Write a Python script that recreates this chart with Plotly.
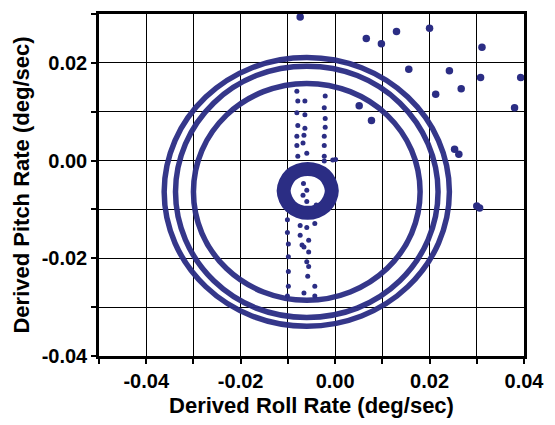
import plotly.graph_objects as go

# ---------------- data ----------------
ring1_x = [0.0242, 0.0219, 0.0154, 0.0056, -0.0060, -0.0176, -0.0274, -0.0339,
           -0.0362, -0.0339, -0.0274, -0.0176, -0.0060, 0.0056, 0.0154, 0.0219, 0.0242]
ring1_y = [-0.0064, 0.0041, 0.0130, 0.0190, 0.0211, 0.0190, 0.0130, 0.0041,
           -0.0064, -0.0169, -0.0258, -0.0318, -0.0339, -0.0318, -0.0258, -0.0169, -0.0064]

ring2_x = [0.0218, 0.0197, 0.0137, 0.0047, -0.0060, -0.0167, -0.0257, -0.0317,
           -0.0338, -0.0317, -0.0257, -0.0167, -0.0060, 0.0047, 0.0137, 0.0197, 0.0218]
ring2_y = [-0.0064, 0.0034, 0.0118, 0.0174, 0.0193, 0.0174, 0.0118, 0.0034,
           -0.0064, -0.0162, -0.0246, -0.0302, -0.0321, -0.0302, -0.0246, -0.0162, -0.0064]

ring3_x = [0.0180, 0.0162, 0.0110, 0.0032, -0.0060, -0.0152, -0.0230, -0.0282,
           -0.0300, -0.0282, -0.0230, -0.0152, -0.0060, 0.0032, 0.0110, 0.0162, 0.0180]
ring3_y = [-0.0064, 0.0021, 0.0093, 0.0141, 0.0158, 0.0141, 0.0093, 0.0021,
           -0.0064, -0.0149, -0.0221, -0.0269, -0.0286, -0.0269, -0.0221, -0.0149, -0.0064]

core_x = [-0.0007, -0.0022, -0.0058, -0.0094, -0.0109, -0.0094, -0.0058, -0.0022, -0.0007]
core_y = [-0.0062, -0.0030, -0.0017, -0.0030, -0.0062, -0.0094, -0.0107, -0.0094, -0.0062]

column_x = [-0.0081, -0.0079, -0.0064, -0.0021, -0.0023, -0.0081, -0.0064, -0.0021,
            -0.0079, -0.0064, -0.0021, -0.0081, -0.0066, -0.0023, -0.0081, -0.0068,
            -0.0023, -0.0079, -0.0060, -0.0023,
            -0.0067, -0.0060, -0.0068, -0.0060, -0.0085, -0.0040,
            -0.0023, -0.0005, 0.0001,
            -0.0101, -0.0101, -0.0074, -0.0060, -0.0043, -0.0074, -0.0099, -0.0070,
            -0.0056, -0.0066, -0.0056, -0.0099, -0.0060, -0.0056, -0.0099, -0.0058,
            -0.0099, -0.0043, -0.0066, -0.0043, -0.0101]
column_y = [0.0142, 0.0122, 0.0122, 0.0132, 0.0108, 0.0098, 0.0094, 0.0086,
            0.0072, 0.0066, 0.0068, 0.0050, 0.0052, 0.0050, 0.0031, 0.0036,
            0.0031, 0.0009, 0.0015, 0.0009,
            -0.0047, -0.0061, -0.0071, -0.0084, -0.0095, -0.0091,
            -0.0001, 0.0001, 0.0002,
            -0.0121, -0.0147, -0.0133, -0.0137, -0.0129, -0.0153, -0.0171, -0.0173,
            -0.0163, -0.0177, -0.0187, -0.0197, -0.0207, -0.0217, -0.0227, -0.0237,
            -0.0257, -0.0257, -0.0271, -0.0277, -0.0277]

outlier_x = [-0.0074, 0.0066, 0.0098, 0.0130, 0.0200, 0.0311, 0.0156, 0.0242, 0.0308,
             0.0393, 0.0267, 0.0213, 0.0380, 0.0051, 0.0077, 0.0253, 0.0262, 0.0300, 0.0306]
outlier_y = [0.0294, 0.0250, 0.0239, 0.0264, 0.0271, 0.0232, 0.0187, 0.0184, 0.0170,
             0.0170, 0.0147, 0.0136, 0.0108, 0.0112, 0.0082, 0.0023, 0.0013, -0.0093, -0.0097]

x_ticks = [-0.05, -0.04, -0.03, -0.02, -0.01, 0.00, 0.01, 0.02, 0.03, 0.04]
x_labels = ["", "-0.04", "", "-0.02", "", "0.00", "", "0.02", "", "0.04"]
y_ticks = [-0.04, -0.03, -0.02, -0.01, 0.00, 0.01, 0.02, 0.03]
y_labels = ["-0.04", "", "-0.02", "", "0.00", "", "0.02", ""]

# ---------------- figure ----------------
COL = "#2B2D84"
fig = go.Figure()

for rx, ry in [(ring1_x, ring1_y), (ring2_x, ring2_y), (ring3_x, ring3_y)]:
    fig.add_trace(go.Scatter(x=rx, y=ry, mode="lines",
                             line=dict(color=COL, width=5.5, shape="spline", smoothing=1.0),
                             opacity=0.95, hoverinfo="skip", showlegend=False))

fig.add_trace(go.Scatter(x=core_x, y=core_y, mode="lines",
                         line=dict(color=COL, width=14, shape="spline", smoothing=1.0),
                         showlegend=False))

fig.add_trace(go.Scatter(x=column_x, y=column_y, mode="markers",
                         marker=dict(color=COL, size=5),
                         showlegend=False))

fig.add_trace(go.Scatter(x=outlier_x, y=outlier_y, mode="markers",
                         marker=dict(color=COL, size=7.5),
                         showlegend=False))

FONT = "Liberation Sans, Arial, sans-serif"
axis_common = dict(
    showgrid=True, gridcolor="black", gridwidth=1.4,
    showline=True, linecolor="black", linewidth=2.5, mirror=True,
    ticks="outside", ticklen=5, tickwidth=1.5, tickcolor="black",
    zeroline=False,
    tickfont=dict(family=FONT, size=20, color="black", weight="bold"),
)

fig.update_xaxes(range=[-0.05, 0.04], tickvals=x_ticks, ticktext=x_labels,
                 title=dict(text="Derived Roll Rate (deg/sec)", standoff=7,
                            font=dict(family=FONT, size=22, color="black", weight="bold")),
                 **axis_common)
fig.update_yaxes(range=[-0.04, 0.03], tickvals=y_ticks, ticktext=y_labels,
                 title=dict(text="Derived Pitch Rate (deg/sec)", standoff=6,
                            font=dict(family=FONT, size=22, color="black", weight="bold")),
                 **axis_common)

fig.update_layout(width=555, height=425,
                  margin=dict(l=99, r=22, t=11, b=63),
                  paper_bgcolor="white", plot_bgcolor="white",
                  showlegend=False)

fig.write_html("out.html")
